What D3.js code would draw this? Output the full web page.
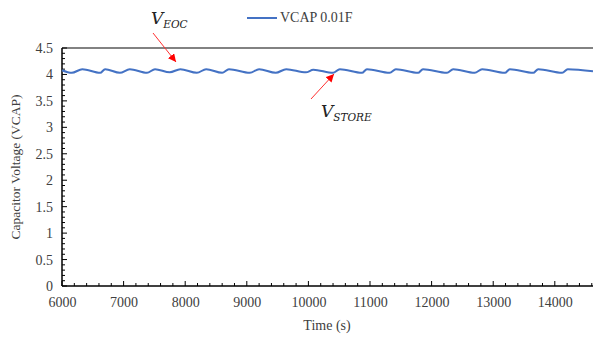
<!DOCTYPE html>
<html><head><meta charset="utf-8">
<script src="https://cdn.jsdelivr.net/npm/d3@7"></script>
<style>body{margin:0;background:#fff}svg{display:block}</style>
</head><body><svg id="c" width="593" height="338"></svg>
<script>
const times = [6000,6160,6330,6620,6700,6940,7100,7380,7510,7750,7920,8190,8340,8600,8710,9050,9200,9470,9640,9960,10080,10400,10510,10870,10950,11320,11420,11780,11860,12250,12350,12700,12820,13190,13270,13650,13730,14120,14210,14620];
const vcap  = [4.08,4.03,4.10,4.03,4.10,4.03,4.10,4.03,4.10,4.04,4.10,4.03,4.10,4.03,4.10,4.03,4.10,4.03,4.10,4.04,4.09,4.03,4.10,4.03,4.10,4.03,4.10,4.03,4.10,4.03,4.10,4.03,4.10,4.03,4.10,4.03,4.10,4.03,4.10,4.06];
const xTicks = [6000,7000,8000,9000,10000,11000,12000,13000,14000];
const yTicks = [0,0.5,1,1.5,2,2.5,3,3.5,4,4.5];
const seriesName = "VCAP 0.01F";

const svg = d3.select("#c");
const L=62, T=48, B=286, R=593;
const x = d3.scaleLinear().domain([6000,14620]).range([L,R]);
const y = d3.scaleLinear().domain([0,4.5]).range([B,T]);
const font = "'Liberation Serif','Times New Roman',serif";

// top border
svg.append("line").attr("x1",L).attr("x2",R).attr("y1",T).attr("y2",T).attr("stroke","#595959").attr("stroke-width",1.5);

// minor ticks
const xMinor = d3.range(6000,14601,200);
svg.append("g").selectAll("line").data(xMinor).join("line")
  .attr("x1",d=>x(d)).attr("x2",d=>x(d)).attr("y1",B).attr("y2",d=>d%1000===0?B-5:B-3)
  .attr("stroke","#000").attr("stroke-width",1);
const yMinor = d3.range(0,46).map(i=>i/10);
svg.append("g").selectAll("line").data(yMinor).join("line")
  .attr("y1",d=>y(d)).attr("y2",d=>y(d)).attr("x1",L).attr("x2",(d,i)=>i%5===0?L+5:L+3)
  .attr("stroke","#000").attr("stroke-width",1);

// axes
const xAxis = svg.append("g").attr("transform",`translate(0,${B})`)
  .call(d3.axisBottom(x).tickValues(xTicks).tickSize(0).tickPadding(11).tickFormat(d3.format("d")));
xAxis.select(".domain").remove();
xAxis.selectAll("text").attr("font-family",font).attr("font-size",14).attr("fill","#404040");
const yAxis = svg.append("g").attr("transform",`translate(${L},0)`)
  .call(d3.axisLeft(y).tickValues(yTicks).tickSize(0).tickPadding(9).tickFormat(d=>String(d)));
yAxis.select(".domain").remove();
yAxis.selectAll("text").attr("font-family",font).attr("font-size",14).attr("fill","#404040");

svg.append("line").attr("x1",L).attr("x2",R).attr("y1",B).attr("y2",B).attr("stroke","#000").attr("stroke-width",1.5);
svg.append("line").attr("x1",L).attr("x2",L).attr("y1",T).attr("y2",B).attr("stroke","#000").attr("stroke-width",1.5);

// series
const data = times.map((t,i)=>({t,v:vcap[i]}));
svg.append("path").datum(data)
  .attr("d",d3.line().x(d=>x(d.t)).y(d=>y(d.v)).curve(d3.curveMonotoneX))
  .attr("fill","none").attr("stroke","#4472C4").attr("stroke-width",2);

// titles
svg.append("text").attr("x",327).attr("y",330).attr("text-anchor","middle")
  .attr("font-family",font).attr("font-size",14).attr("fill","#404040").text("Time (s)");
svg.append("text").attr("transform","translate(20,167) rotate(-90)").attr("text-anchor","middle")
  .attr("font-family",font).attr("font-size",13.5).attr("fill","#404040").text("Capacitor Voltage (VCAP)");

// legend
svg.append("line").attr("x1",247).attr("x2",277).attr("y1",18).attr("y2",18).attr("stroke","#4472C4").attr("stroke-width",2);
svg.append("text").attr("x",280).attr("y",22).attr("font-family",font).attr("font-size",14).attr("fill","#404040").text(seriesName);

// annotations
const defs = svg.append("defs");
defs.append("marker").attr("id","ah").attr("viewBox","0 0 10 10").attr("refX",10).attr("refY",5)
  .attr("markerWidth",8).attr("markerHeight",8).attr("markerUnits","userSpaceOnUse").attr("orient","auto")
  .append("path").attr("d","M0,0L10,5L0,10Z").attr("fill","#ff0000");
svg.append("line").attr("x1",153).attr("y1",33).attr("x2",176).attr("y2",62).attr("stroke","#ff3030").attr("stroke-width",1).attr("marker-end","url(#ah)");
svg.append("line").attr("x1",311).attr("y1",99).attr("x2",334).attr("y2",74).attr("stroke","#ff3030").attr("stroke-width",1).attr("marker-end","url(#ah)");

const tf = "'DejaVu Serif','Liberation Serif',serif";
const t1 = svg.append("text").attr("x",151).attr("y",24).attr("font-family",tf).attr("font-style","italic").attr("fill","#222");
t1.append("tspan").attr("font-size",17).text("V");
t1.append("tspan").attr("font-size",10.5).attr("dy",4).text("EOC");
const t2 = svg.append("text").attr("x",321).attr("y",117).attr("font-family",tf).attr("font-style","italic").attr("fill","#222");
t2.append("tspan").attr("font-size",17).text("V");
t2.append("tspan").attr("font-size",10.5).attr("dy",4).text("STORE");
</script></body></html>
